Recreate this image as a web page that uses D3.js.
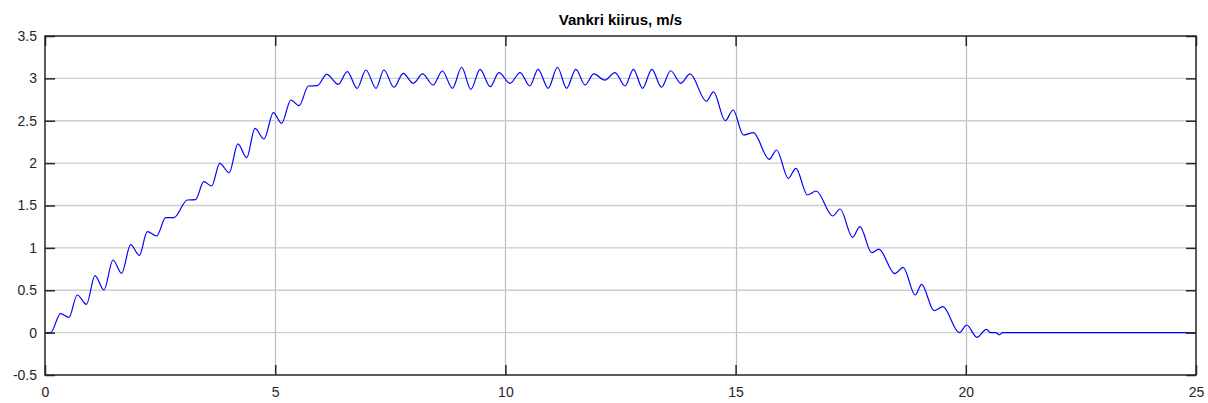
<!DOCTYPE html>
<html>
<head>
<meta charset="utf-8">
<script src="https://cdn.jsdelivr.net/npm/d3@7"></script>
<style>
  html, body { margin: 0; padding: 0; background: #fff; }
  svg { display: block; }
</style>
</head>
<body>
<svg id="chart" width="1208" height="403"></svg>
<script>
// Crane speed over time (m/s): acceleration, constant travel, braking, rest.
const time = [0, 0.12, 0.34, 0.52, 0.70, 0.90, 1.086, 1.28, 1.477, 1.665, 1.86, 2.05, 2.22, 2.425,
  2.62, 2.80, 3.09, 3.27, 3.45, 3.62, 3.795, 4.0, 4.19, 4.38, 4.56, 4.757, 4.96, 5.14, 5.34, 5.52,
  5.72, 5.915, 6.12, 6.37, 6.566, 6.78, 6.97, 7.19, 7.36, 7.58, 7.78, 8.0, 8.2, 8.43, 8.63, 8.85,
  9.05, 9.25, 9.45, 9.67, 9.86, 10.1, 10.32, 10.53, 10.71, 10.93, 11.13, 11.33, 11.53, 11.73, 11.92,
  12.16, 12.38, 12.6, 12.78, 12.98, 13.18, 13.39, 13.59, 13.81, 14.01, 14.365, 14.52, 14.775, 14.945,
  15.17, 15.385, 15.73, 15.89, 16.145, 16.31, 16.56, 16.75, 17.11, 17.27, 17.54, 17.70, 17.955, 18.11,
  18.46, 18.64, 18.9, 19.04, 19.31, 19.5, 19.86, 20.02, 20.24, 20.45, 20.53, 20.65, 20.73, 20.8, 25];

const speed = [0, 0, 0.225, 0.18, 0.444, 0.334, 0.672, 0.503, 0.857, 0.70, 1.038, 0.912, 1.191, 1.14,
  1.356, 1.356, 1.565, 1.57, 1.781, 1.73, 1.998, 1.887, 2.226, 2.064, 2.41, 2.285, 2.595, 2.47, 2.745, 2.678,
  2.91, 2.915, 3.048, 2.93, 3.079, 2.883, 3.099, 2.883, 3.099, 2.895, 3.06, 2.942, 3.052, 2.922, 3.087, 2.883,
  3.131, 2.871, 3.107, 2.902, 3.067, 2.942, 3.067, 2.91, 3.107, 2.883, 3.131, 2.883, 3.107, 2.922, 3.052,
  2.98, 3.067, 2.91, 3.107, 2.883, 3.107, 2.895, 3.09, 2.942, 3.052, 2.73, 2.84, 2.5, 2.627,
  2.332, 2.359, 2.045, 2.155, 1.821, 1.939, 1.624, 1.671, 1.376, 1.459, 1.125, 1.25, 0.943, 0.985,
  0.696, 0.771, 0.444, 0.57, 0.259, 0.306, 0.0, 0.09, -0.055, 0.039, 0.0, 0.0, -0.025, 0, 0];

const xTicks = [0, 5, 10, 15, 20, 25];
const yTicks = [-0.5, 0, 0.5, 1, 1.5, 2, 2.5, 3, 3.5];
const chartTitle = "Vankri kiirus, m/s";

const svg = d3.select("#chart");
const margin = { left: 45, right: 12, top: 36, bottom: 28 };
const W = 1208, H = 403;
const x = d3.scaleLinear().domain([0, 25]).range([margin.left, W - margin.right]);
const y = d3.scaleLinear().domain([-0.5, 3.5]).range([H - margin.bottom, margin.top]);

const x0 = x.range()[0], x1 = x.range()[1];
const y0 = y.range()[0], y1 = y.range()[1];
const tickLen = 10;
const axisColor = "#262626";

// grid
const grid = svg.append("g");
grid.selectAll("line.gx").data(xTicks.slice(1, -1)).join("line")
  .attr("x1", d => Math.round(x(d)) + 0.5).attr("x2", d => Math.round(x(d)) + 0.5)
  .attr("y1", y1).attr("y2", y0)
  .attr("stroke", "#bdbdbd").attr("stroke-width", 1.2);
grid.selectAll("line.gy").data(yTicks.slice(1, -1)).join("line")
  .attr("x1", x0).attr("x2", x1)
  .attr("y1", d => y(d)).attr("y2", d => y(d))
  .attr("stroke", "#cdcdcd").attr("stroke-width", 1.4);

// data line
const line = d3.line()
  .x((d, i) => x(time[i]))
  .y(d => y(d))
  .curve(d3.curveMonotoneX);
svg.append("path")
  .attr("d", line(speed))
  .attr("fill", "none")
  .attr("stroke", "#0000ff")
  .attr("stroke-width", 1.2);

// axes: bottom/left with labels, top/right mirrored ticks only
const font = "Arial, 'Liberation Sans', Helvetica, sans-serif";
const axBottom = d3.axisBottom(x).tickValues(xTicks).tickSizeInner(-tickLen).tickSizeOuter(0).tickPadding(12).tickFormat(d3.format("d"));
const axLeft = d3.axisLeft(y).tickValues(yTicks).tickSizeInner(-tickLen).tickSizeOuter(0).tickPadding(8).tickFormat(d => String(d));
const axTop = d3.axisTop(x).tickValues(xTicks).tickSizeInner(-tickLen).tickSizeOuter(0).tickFormat("");
const axRight = d3.axisRight(y).tickValues(yTicks).tickSizeInner(-tickLen).tickSizeOuter(0).tickFormat("");

function style(g) {
  g.select(".domain").remove();
  g.selectAll(".tick line").attr("stroke", axisColor).attr("stroke-width", 1.5);
  g.selectAll(".tick text").attr("fill", "#262626").style("font-family", font).style("font-size", "14px");
}
svg.append("g").attr("transform", `translate(0,${y0})`).call(axBottom).call(style);
svg.append("g").attr("transform", `translate(${x0},0)`).call(axLeft).call(style);
svg.append("g").attr("transform", `translate(0,${y1})`).call(axTop).call(style);
svg.append("g").attr("transform", `translate(${x1},0)`).call(axRight).call(style);

// axes box
svg.append("path")
  .attr("d", `M${x0},${y1}H${x1}V${y0}H${x0}Z`)
  .attr("fill", "none")
  .attr("stroke", axisColor)
  .attr("stroke-width", 1.5);

svg.append("text")
  .attr("x", (x0 + x1) / 2).attr("y", 25)
  .attr("text-anchor", "middle")
  .style("font-family", font).style("font-size", "15px").style("font-weight", "bold")
  .attr("fill", "#000")
  .text(chartTitle);
</script>
</body>
</html>
